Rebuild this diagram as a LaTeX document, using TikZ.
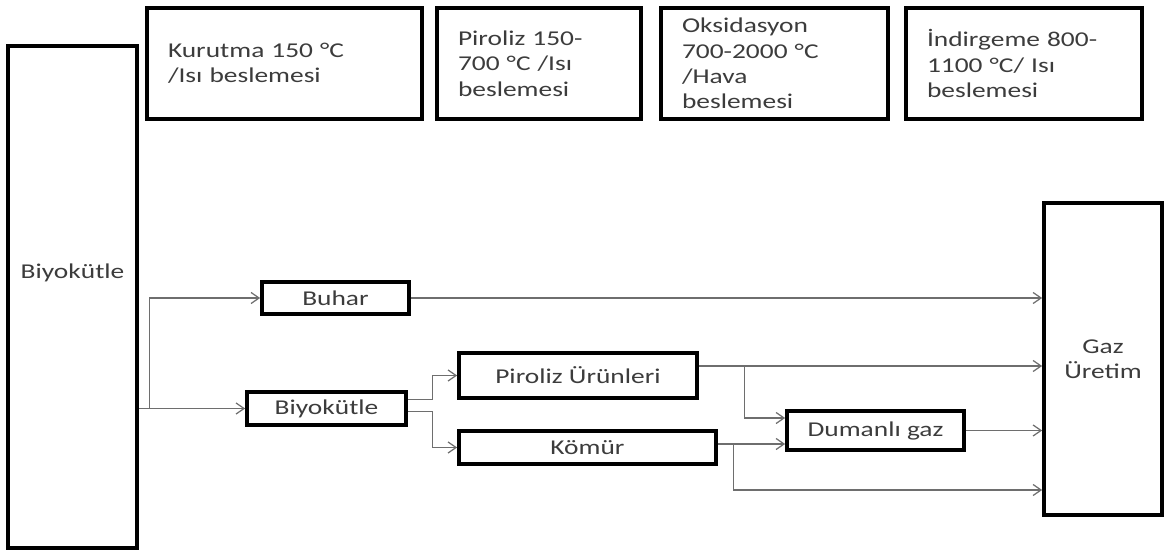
\documentclass[tikz,border=0pt]{standalone}
\usepackage{fontspec}
\setmainfont{Carlito}[FakeStretch=1.3]
\usepackage{tikz}
\usetikzlibrary{arrows.meta,positioning,calc}
\definecolor{ink}{HTML}{3C3C3C}
\definecolor{wire}{HTML}{6E6E6E}

\begin{document}
\begin{tikzpicture}[
  stage/.style={draw=black, line width=2.1pt, align=left, text=ink, font=\fontsize{12}{14.5}\selectfont, minimum height=2.22cm, inner xsep=0.42cm, inner ysep=0pt},
  block/.style={draw=black, line width=2.1pt, align=center, text=ink, font=\fontsize{12}{14.5}\selectfont, inner sep=0pt},
  flow/.style={-{Straight Barb[length=1.6mm, width=2.2mm]}, draw=wire, line width=0.7pt},
]
\useasboundingbox (0,0) rectangle (23.32,-11);
\node[block, minimum width=2.58cm, minimum height=10.04cm, label={[text=ink, font=\fontsize{12}{14.5}\selectfont, yshift=0.48cm]center:Biyokütle}] (biomass) at (1.45,-5.94) {};
\node[stage, text width=4.66cm] (dry) at (5.69,-1.27) {Kurutma 150 °C\\/Isı beslemesi};
\node[stage, text width=3.24cm] (pyrolysis) at (10.78,-1.27) {Piroliz 150-\\700 °C /Isı\\beslemesi};
\node[stage, text width=3.70cm] (oxidation) at (15.49,-1.27) {Oksidasyon\\700-2000 °C\\/Hava\\beslemesi};
\node[stage, text width=3.88cm] (reduction) at (20.48,-1.27) {İndirgeme 800-\\1100 °C/ Isı\\beslemesi};
\node[block, minimum width=2.94cm, minimum height=0.64cm] (steam) at (6.71,-5.96) {Buhar};
\node[block, minimum width=3.18cm, minimum height=0.66cm] (feed) at (6.53,-8.17) {Biyokütle};
\node[block, minimum width=4.76cm, minimum height=0.9cm] (pyro) at (11.56,-7.51) {Piroliz Ürünleri};
\node[block, minimum width=5.14cm, minimum height=0.66cm] (char) at (11.75,-8.95) {Kömür};
\node[block, minimum width=3.54cm, minimum height=0.78cm] (smoke) at (17.51,-8.61) {Dumanlı gaz};
\node[block, minimum width=2.36cm, minimum height=6.24cm] (gas) at (22.06,-7.18) {Gaz\\Üretim};
\draw[flow] (biomass.east |- feed) -- (feed);
\draw[flow] ($(biomass.east |- feed)+(0.22,0)$) |- (steam);
\draw[flow] ($(feed.east)+(0,0.18)$) -- ++(0.5,0) |- (pyro);
\draw[flow] ($(feed.east)+(0,-0.06)$) -- ++(0.5,0) |- (char);
\draw[flow] (steam) -- (steam -| gas.west);
\draw[flow] ($(pyro.east)+(0,0.19)$) coordinate (pyout) -- (pyout -| gas.west);
\draw[flow] ($(pyout)+(0.92,0)$) |- ($(smoke.west)+(0,0.25)$);
\draw[flow] ($(char.east)+(0,0.07)$) coordinate (chout) -- (chout -| smoke.west);
\draw[flow] ($(chout)+(0.32,0)$) |- ($(gas.west)+(0,-2.62)$);
\draw[flow] (smoke) -- (smoke -| gas.west);
\end{tikzpicture}
\end{document}
